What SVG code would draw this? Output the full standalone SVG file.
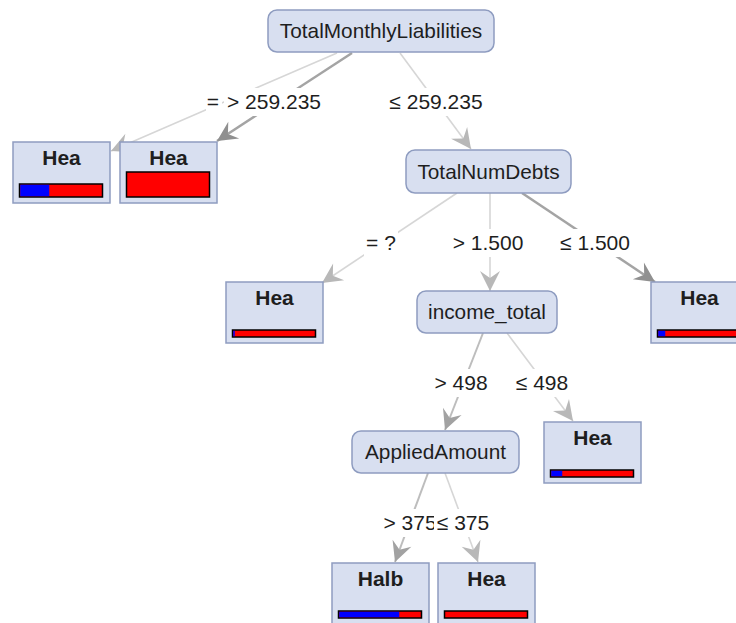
<svg xmlns="http://www.w3.org/2000/svg" width="736" height="623" viewBox="0 0 736 623">
<defs>
<style>
.inner{fill:#d8dff0;stroke:#8e9cc0;stroke-width:1.5}
.leaf{fill:#d8dff0;stroke:#8e9cc0;stroke-width:1.5}
.nt{font-family:"Liberation Sans",Arial,sans-serif;font-size:20.8px;fill:#1e1e1e;text-anchor:middle}
.lt{font-family:"Liberation Sans",Arial,sans-serif;font-size:21px;font-weight:bold;fill:#1e1e1e;text-anchor:middle}
.el{font-family:"Liberation Sans",Arial,sans-serif;font-size:21px;fill:#1e1e1e;text-anchor:middle}
.bg{fill:#ffffff}
.bar{stroke:#000;stroke-width:1.5}
.red{fill:#ff0000}
.blue{fill:#0000ff}
.e{fill:none}
.light{stroke:#d6d6d6;stroke-width:1.6}
.mid{stroke:#bdbdbd;stroke-width:2}
.dark{stroke:#a4a4a4;stroke-width:2.5}
</style>
<marker id="aL" viewBox="-22 -11 24 22" refX="0" refY="0" markerWidth="24" markerHeight="22" markerUnits="userSpaceOnUse" orient="auto">
<path d="M0,0 L-20,-10 L-13,0 L-20,10 Z" fill="#b8b8b8"/>
</marker>
<marker id="aM" viewBox="-22 -11 24 22" refX="0" refY="0" markerWidth="24" markerHeight="22" markerUnits="userSpaceOnUse" orient="auto">
<path d="M0,0 L-20,-10 L-13,0 L-20,10 Z" fill="#a2a2a2"/>
</marker>
<marker id="aD" viewBox="-22 -11 24 22" refX="0" refY="0" markerWidth="24" markerHeight="22" markerUnits="userSpaceOnUse" orient="auto">
<path d="M0,0 L-20,-10 L-13,0 L-20,10 Z" fill="#909090"/>
</marker>
</defs>
<rect width="736" height="623" fill="#ffffff"/>
<g id="connectors">
<line class="e light" x1="337" y1="53" x2="111" y2="151" marker-end="url(#aL)"/>
<line class="e dark" x1="352" y1="53" x2="217" y2="141" marker-end="url(#aD)"/>
<line class="e light" x1="400" y1="53" x2="471" y2="149" marker-end="url(#aL)"/>
<line class="e light" x1="457" y1="193" x2="322" y2="283" marker-end="url(#aL)"/>
<line class="e light" x1="490" y1="193" x2="490" y2="291" marker-end="url(#aL)"/>
<line class="e dark" x1="522" y1="193" x2="655" y2="282" marker-end="url(#aD)"/>
<line class="e mid" x1="483" y1="333" x2="445" y2="430" marker-end="url(#aM)"/>
<line class="e light" x1="507" y1="333" x2="573" y2="421" marker-end="url(#aL)"/>
<line class="e mid" x1="428" y1="473" x2="395" y2="562" marker-end="url(#aM)"/>
<line class="e light" x1="445" y1="473" x2="478" y2="562" marker-end="url(#aL)"/>
<g id="edge-labels">
<rect class="bg" x="206" y="90" width="16" height="24"/>
<text class="el" x="213" y="109">=</text>
<rect class="bg" x="224" y="88" width="100" height="28"/>
<text class="el" x="274" y="109">&gt; 259.235</text>
<rect class="bg" x="386" y="88" width="100" height="28"/>
<text class="el" x="436" y="109">≤ 259.235</text>
<rect class="bg" x="364" y="229" width="34" height="28"/>
<text class="el" x="381" y="250">= ?</text>
<rect class="bg" x="450" y="229" width="76" height="28"/>
<text class="el" x="488" y="250">&gt; 1.500</text>
<rect class="bg" x="557" y="229" width="76" height="28"/>
<text class="el" x="595" y="250">≤ 1.500</text>
<rect class="bg" x="432" y="369" width="58" height="28"/>
<text class="el" x="461" y="390">&gt; 498</text>
<rect class="bg" x="513" y="369" width="58" height="28"/>
<text class="el" x="542" y="390">≤ 498</text>
<rect class="bg" x="382" y="509" width="56" height="28"/>
<text class="el" x="410" y="530">&gt; 375</text>
<rect class="bg" x="434" y="509" width="58" height="28"/>
<text class="el" x="463" y="530">≤ 375</text>
</g>
</g>
<g id="node-root">
<rect class="inner" x="268" y="10" width="226" height="42" rx="9"/>
<text class="nt" x="381" y="38">TotalMonthlyLiabilities</text>
</g>
<g id="leaf-1">
<rect class="leaf" x="13" y="142" width="97" height="61"/>
<text class="lt" x="61.5" y="165">Hea</text>
<rect class="red bar" x="19.5" y="184" width="83" height="13"/>
<rect class="blue" x="20.25" y="184.75" width="29" height="11.5"/>
</g>
<g id="leaf-2">
<rect class="leaf" x="120" y="142" width="97" height="61"/>
<text class="lt" x="168.5" y="165">Hea</text>
<rect class="red bar" x="126.5" y="172" width="83" height="25"/>
</g>
<g id="node-totalnumdebts">
<rect class="inner" x="406" y="150" width="165" height="43" rx="9"/>
<text class="nt" x="488.5" y="179">TotalNumDebts</text>
</g>
<g id="leaf-3">
<rect class="leaf" x="226" y="282" width="97" height="61"/>
<text class="lt" x="274.5" y="305">Hea</text>
<rect class="red bar" x="232.5" y="330" width="83" height="7"/>
<rect class="blue" x="233.25" y="330.75" width="1.5" height="5.5"/>
</g>
<g id="node-income-total">
<rect class="inner" x="417" y="291" width="140" height="42" rx="9"/>
<text class="nt" x="487" y="319">income_total</text>
</g>
<g id="leaf-4">
<rect class="leaf" x="651" y="282" width="97" height="61"/>
<text class="lt" x="699.5" y="305">Hea</text>
<rect class="red bar" x="657.5" y="330" width="84" height="7"/>
<rect class="blue" x="658.25" y="330.75" width="7" height="5.5"/>
</g>
<g id="node-appliedamount">
<rect class="inner" x="352" y="431" width="167" height="42" rx="9"/>
<text class="nt" x="435.5" y="459">AppliedAmount</text>
</g>
<g id="leaf-5">
<rect class="leaf" x="544" y="422" width="97" height="61"/>
<text class="lt" x="592.5" y="445">Hea</text>
<rect class="red bar" x="550.5" y="470" width="83" height="7"/>
<rect class="blue" x="551.25" y="470.75" width="11" height="5.5"/>
</g>
<g id="leaf-halb">
<rect class="leaf" x="332" y="563" width="97" height="61"/>
<text class="lt" x="380.5" y="586">Halb</text>
<rect class="red bar" x="338.5" y="611" width="83" height="7"/>
<rect class="blue" x="339.25" y="611.75" width="60" height="5.5"/>
</g>
<g id="leaf-7">
<rect class="leaf" x="438" y="563" width="97" height="61"/>
<text class="lt" x="486.5" y="586">Hea</text>
<rect class="red bar" x="444.5" y="611" width="83" height="7"/>
</g>
</svg>
